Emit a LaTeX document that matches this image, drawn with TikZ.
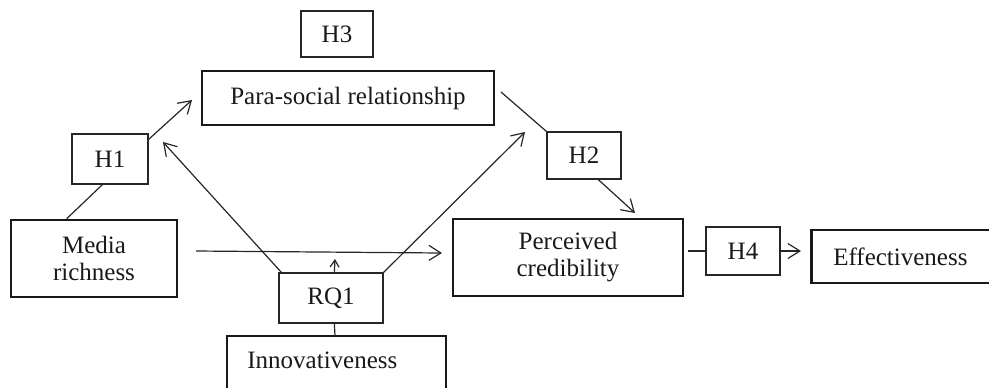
\documentclass[tikz,border=0pt]{standalone}
\usepackage{fontspec}
\setmainfont{Liberation Serif}
\usetikzlibrary{calc,arrows.meta}
\begin{document}
\begin{tikzpicture}[x=0.5pt,y=-0.5pt,
  every node/.style={font=\fontsize{12.5}{13.5}\selectfont, text=black!90, inner sep=0pt},
  thinbox/.style={draw=black!85, line width=0.65pt, rectangle, align=center},
  thickbox/.style={draw=black!90, line width=1.3pt, rectangle, align=center},
  conn/.style={draw=black!85, line width=0.6pt},
  arr/.style={conn, -{Straight Barb[length=6pt,width=7.5pt,line width=0.6pt]}},
  arrs/.style={conn, -{Straight Barb[length=3.5pt,width=4.5pt,line width=0.6pt]}}]
\useasboundingbox (0,0) rectangle (989,387);
\clip (0,0) rectangle (989,387);

% nodes
\node[thinbox, minimum width=36pt, minimum height=23pt] (h3) at (337,34) {H3};
\node[thickbox, minimum width=146pt, minimum height=27pt] (para) at (348,98) {Para-social relationship};
\node[thinbox, minimum width=38pt, minimum height=25pt] (h1) at (110,159) {H1};
\node[thickbox, minimum width=83pt, minimum height=38.5pt] (media) at (94,258.5) {Media\\richness};
\node[thinbox, minimum width=52pt, minimum height=25pt] (rq1) at (331,298) {RQ1};
\node[anchor=north west, minimum height=24pt, text width=89pt, inner xsep=10pt, align=left] (innov) at (227,336) {Innovativeness};
\draw[black!90, line width=1.3pt] ([yshift=-20pt]innov.south west) -- (innov.north west) -- (innov.north east) -- ([yshift=-20pt]innov.south east);
\node[thinbox, minimum width=37pt, minimum height=23.5pt] (h2) at (584,155.5) {H2};
\node[thickbox, minimum width=115pt, minimum height=38.5pt] (perc) at (568,257.5) {Perceived\\credibility};
\node[thinbox, minimum width=37pt, minimum height=24pt] (h4) at (743,251) {H4};
\node[thickbox, anchor=west, minimum height=26.5pt, text width=73pt, inner xsep=11pt, align=left] (eff) at (810,256.5) {Effectiveness};

% free ends
\coordinate (c1) at (192,100);
\coordinate (c2) at (163,142);
\coordinate (c3) at (525,132);
\coordinate (c4) at (335,259);
\coordinate (c5) at (196,251);
\coordinate (c6) at (442,253);
\coordinate (c7) at (501,92);
\coordinate (c8) at (635,213);
\coordinate (c9) at (688,251);
\coordinate (c10) at (801,251);

% connectors
\draw[conn] ($(media.north west)+(57,0)$) -- ($(h1.south west)+(31,0)$);
\draw[arr] ($(h1.north east)+(0,6)$) -- (c1);
\draw[arr] ($(rq1.north west)+(3,0)$) -- (c2);
\draw[arr] (rq1.north east) -- (c3);
\draw[arrs] ($(rq1.north west)+(56,0)$) -- (c4);
\draw[conn] ($(rq1.south west)+(56,0)$) -- ($(innov.north west)+(108,0)$);
\draw[arr] (c5) -- (c6);
\draw[conn] (c7) -- (h2.north west);
\draw[arr] ($(h2.south west)+(52,0)$) -- (c8);
\draw[conn] (c9) -- (h4.west);
\draw[arr] (h4.east) -- (c10);
\end{tikzpicture}
\end{document}
